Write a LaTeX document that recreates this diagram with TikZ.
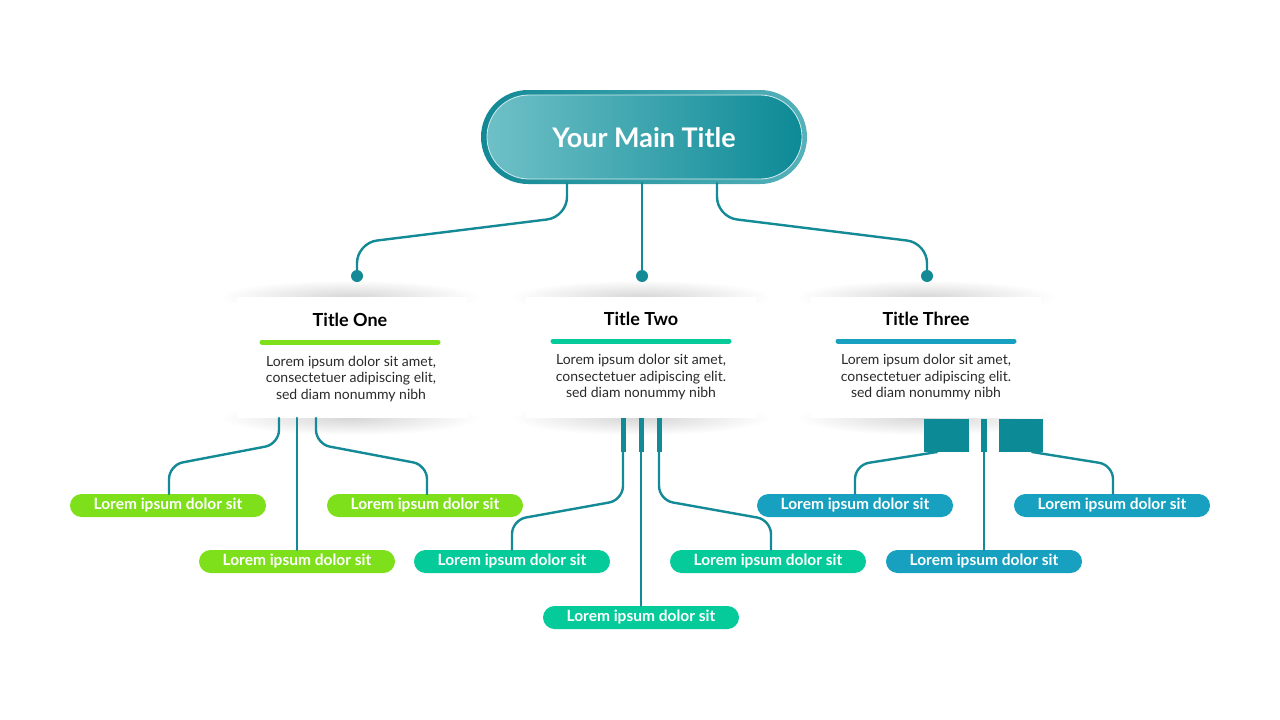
\documentclass[tikz,border=0pt]{standalone}
\usepackage{fontspec}
\setmainfont{Lato}
\usetikzlibrary{calc}
\definecolor{lineC}{HTML}{138A96}
\definecolor{greenC}{HTML}{7EE01A}
\definecolor{tealC}{HTML}{05CB9A}
\definecolor{blueC}{HTML}{17A0BF}
\definecolor{mainL}{HTML}{6FC0C7}
\definecolor{mainR}{HTML}{0C8A96}
\definecolor{ringL}{HTML}{128995}
\definecolor{ringR}{HTML}{55B1BA}
\definecolor{bodyC}{HTML}{2A2A2A}
\tikzset{
  conn/.style={draw=lineC, line width=2.4pt, line cap=round},
  pill/.style={rectangle, rounded corners=11.5pt, minimum width=196pt, minimum height=23pt, inner sep=0pt, text=white, font=\fontsize{15.5}{17}\selectfont\bfseries},
  card/.style={rectangle, fill=white, minimum width=230pt, minimum height=121pt, inner sep=0pt},
  ctitle/.style={font=\fontsize{18}{21}\selectfont\bfseries, text=black, inner sep=0pt},
  cbody/.style={font=\fontsize{14}{16.5}\selectfont, text=bodyC, align=center, inner sep=0pt},
  cdot/.style={circle, fill=lineC, minimum size=12pt, inner sep=0pt},
  shad/.style={inner color=black!16, outer color=white},
}
\begin{document}
\begin{tikzpicture}[x=1pt,y=-1pt]
\useasboundingbox (0,0) rectangle (1280,720);
\fill[white] (0,0) rectangle (1280,720);

% main title
\shade[left color=ringL, right color=ringR, rounded corners=47pt] (481,90) rectangle (807,184);
\shade[left color=mainL, right color=mainR, draw=white!70!mainL, line width=0.8pt, rounded corners=42pt]
  (487,95) rectangle (802,179);
\node[font=\fontsize{27}{30}\selectfont\bfseries, text=white] (main) at (644,138) {Your Main Title};
\coordinate (mA) at (567,183);
\coordinate (mB) at (642,183);
\coordinate (mC) at (717,183);

% card shadows
\foreach \cx/\ty/\by in {350/297/418, 641/297/418, 926/297/418}{
  \shade[shad] (\cx,\ty) ellipse[x radius=130, y radius=17];
  \shade[shad] (\cx,\by) ellipse[x radius=130, y radius=17];
}

% cards
\node[card] (c1) at (352,357.5) {};
\node[card] (c2) at (641,357.5) {};
\node[card] (c3) at (926,357.5) {};

% dots
\node[cdot] (d1) at (357,276) {};
\node[cdot] (d2) at (642,276) {};
\node[cdot] (d3) at (927,276) {};

\draw[conn, rounded corners=20pt] (mA) -- (567,217) -- (357,243) -- (d1.center);
\draw[conn] (mB) -- (d2.center);
\draw[conn, rounded corners=20pt] (mC) -- (717,217) -- (927,243) -- (d3.center);

% card contents
\node[ctitle] (t1) at (350,320) {Title One};
\node[ctitle] (t2) at (641,318.5) {Title Two};
\node[ctitle] (t3) at (926,318.5) {Title Three};
\draw[greenC, line width=5pt, line cap=round] (262,342) -- (438,342);
\draw[tealC, line width=5pt, line cap=round] (553,341) -- (729,341);
\draw[blueC, line width=5pt, line cap=round] (838,341) -- (1014,341);
\node[cbody] (b1) at (351,379) {Lorem ipsum dolor sit amet,\\consectetuer adipiscing elit,\\sed diam nonummy nibh};
\node[cbody] (b2) at (641,377.5) {Lorem ipsum dolor sit amet,\\consectetuer adipiscing elit.\\sed diam nonummy nibh};
\node[cbody] (b3) at (926,377.5) {Lorem ipsum dolor sit amet,\\consectetuer adipiscing elit.\\sed diam nonummy nibh};

% pills
\node[pill, fill=greenC] (p11) at (168,505.5) {Lorem ipsum dolor sit};
\node[pill, fill=greenC] (p12) at (297,561.5) {Lorem ipsum dolor sit};
\node[pill, fill=greenC] (p13) at (425,505.5) {Lorem ipsum dolor sit};
\node[pill, fill=tealC] (p21) at (512,561.5) {Lorem ipsum dolor sit};
\node[pill, fill=tealC] (p22) at (641,617.5) {Lorem ipsum dolor sit};
\node[pill, fill=tealC] (p23) at (768,561.5) {Lorem ipsum dolor sit};
\node[pill, fill=blueC] (p31) at (855,505.5) {Lorem ipsum dolor sit};
\node[pill, fill=blueC] (p32) at (984,561.5) {Lorem ipsum dolor sit};
\node[pill, fill=blueC] (p33) at (1112,505.5) {Lorem ipsum dolor sit};

% card 1 connectors
\draw[conn, rounded corners=14pt] (279,418) -- (279,444) -- (169,465) -- (p11.north -| 169,0);
\draw[conn] (297,418) -- (p12.north);
\draw[conn, rounded corners=14pt] (316,418) -- (316,444) -- (427,465) -- (p13.north -| 427,0);

% card 2 connectors
\draw[lineC, line width=5pt] (623,418) -- (623,452) (641,418) -- (641,452) (659,418) -- (659,452);
\draw[conn, rounded corners=14pt] (623,450) -- (623,500) -- (512,520) -- (p21.north);
\draw[conn] (641,450) -- (p22.north);
\draw[conn, rounded corners=14pt] (659,450) -- (659,500) -- (771,520) -- (p23.north -| 771,0);

% card 3 connectors
\fill[mainR] (924,419) rectangle (969,452);
\fill[mainR] (981,419) rectangle (987,452);
\fill[mainR] (999,419) rectangle (1043,452);
\draw[conn, rounded corners=14pt] (937,452) -- (855,465) -- (p31.north);
\draw[conn] (984,452) -- (p32.north);
\draw[conn, rounded corners=14pt] (1032,452) -- (1113,465) -- (p33.north -| 1113,0);
\end{tikzpicture}
\end{document}
